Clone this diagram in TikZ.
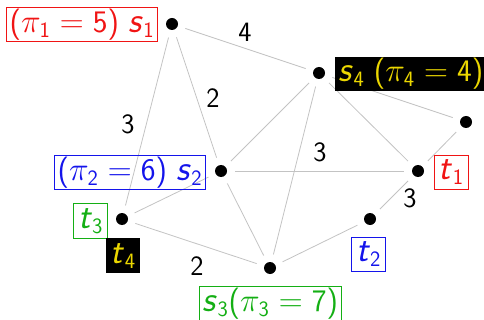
\documentclass[tikz,border=0pt]{standalone}
\usepackage{amsmath}
\usepackage{graphicx}
\usepackage{fontspec}
\definecolor{edgegray}{RGB}{195,195,195}
\definecolor{labred}{RGB}{240,20,20}
\definecolor{labblue}{RGB}{20,20,235}
\definecolor{labgreen}{RGB}{20,175,20}
\definecolor{labyellow}{RGB}{235,215,0}
\newcommand\mv[1]{\scalebox{1.15}{\textsf{\itshape #1}}}
\newcommand\md[1]{\textsf{#1}}
\begin{document}
\begin{tikzpicture}[x=0.75pt,y=-0.75pt,
  dot/.style={circle,fill=black,inner sep=0pt,minimum size=9pt,outer sep=6pt},
  edge/.style={draw=edgegray,line width=0.6pt},
  wlab/.style={font=\fontsize{21}{24}\selectfont\sffamily,inner sep=0pt},
  lab/.style={font=\fontsize{23.5}{27}\selectfont,inner xsep=2.5pt,inner ysep=1pt,line width=0.6pt,minimum height=26pt},
  tlab/.style={minimum width=25.5pt},
  boxlab/.style={lab,draw},
  blacklab/.style={lab,fill=black,text=labyellow}]
\useasboundingbox (0,0) rectangle (484,320);
% vertices
\node[dot] (s1) at (172,24) {};
\node[dot] (s4) at (319,73) {};
\node[dot] (r) at (466,122) {};
\node[dot] (t1) at (418,171) {};
\node[dot] (s2) at (221,171) {};
\node[dot] (t3) at (122,219) {};
\node[dot] (t2) at (370,219) {};
\node[dot] (s3) at (270,268) {};
% edges
\draw[edge] (s1) -- (s4);
\draw[edge] (s1) -- (s2);
\draw[edge] (s1) -- (t3);
\draw[edge] (s4) -- (s2);
\draw[edge] (s4) -- (s3);
\draw[edge] (s4) -- (t1);
\draw[edge] (s4) -- (r);
\draw[edge] (s2) -- (t1);
\draw[edge] (s2) -- (t3);
\draw[edge] (s2) -- (s3);
\draw[edge] (t3) -- (s3);
\draw[edge] (s3) -- (t2);
\draw[edge] (t2) -- (t1);
\draw[edge] (t1) -- (r);
% edge weights
\node[wlab] (w14) at (245,32) {4};
\node[wlab] (w12) at (213,98) {2};
\node[wlab] (w13) at (128,124) {3};
\node[wlab] (w21) at (320,152) {3};
\node[wlab] (w2t) at (410,198) {3};
\node[wlab] (w33) at (197,266) {2};
% vertex labels
\node[boxlab,draw=labred,text=labred,anchor=east] (ls1) at (158,24.5) {$\md{(}\pi_{\md{1}}=\md{5}\md{)}\ \mv{s}_{\md{1}}$};
\node[blacklab,anchor=west] (ls4) at (335,74) {$\mv{s}_{\md{4}}\ \md{(}\pi_{\md{4}}=\md{4}\md{)}$};
\node[boxlab,draw=labblue,text=labblue,anchor=east] (ls2) at (206,172.5) {$\md{(}\pi_{\md{2}}=\md{6}\md{)}\ \mv{s}_{\md{2}}$};
\node[boxlab,tlab,draw=labgreen,text=labgreen,anchor=east] (lt3) at (108,221) {$\mv{t}_{\md{3}}$};
\node[blacklab,tlab,anchor=north west] (lt4) at (106,238) {$\mv{t}_{\md{4}}$};
\node[boxlab,tlab,draw=labred,text=labred,anchor=west] (lt1) at (434,172.5) {$\mv{t}_{\md{1}}$};
\node[boxlab,tlab,draw=labblue,text=labblue] (lt2) at (368.5,254.5) {$\mv{t}_{\md{2}}$};
\node[boxlab,draw=labgreen,text=labgreen] (ls3) at (270.5,303.5) {$\mv{s}_{\md{3}}\md{(}\pi_{\md{3}}=\md{7}\md{)}$};
\end{tikzpicture}
\end{document}
